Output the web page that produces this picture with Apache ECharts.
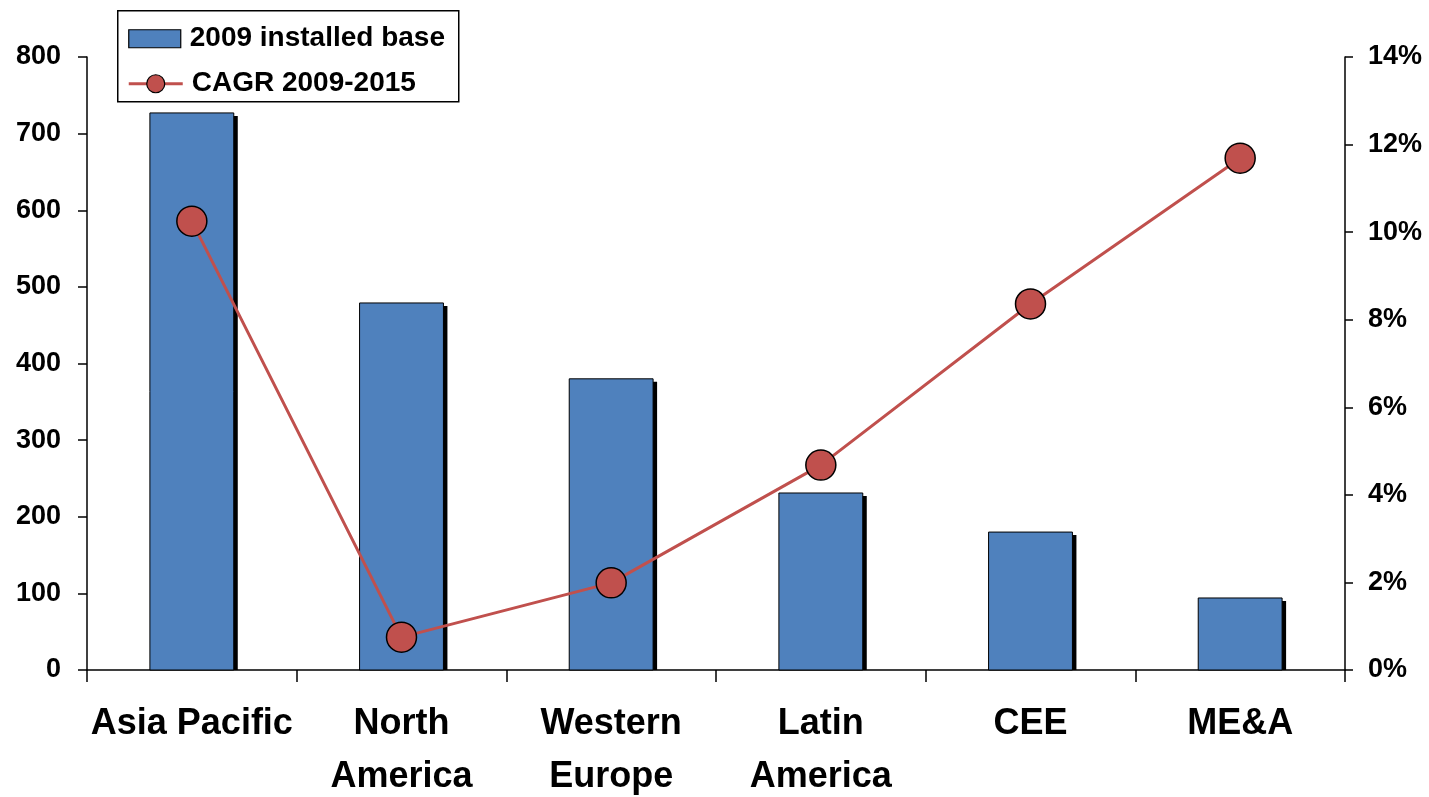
<!DOCTYPE html>
<html>
<head>
<meta charset="utf-8">
<script src="https://cdn.jsdelivr.net/npm/echarts@6/dist/echarts.min.js"></script>
<style>
  html, body { margin: 0; padding: 0; background: #fff; }
  #chart { width: 1429px; height: 797px; }
</style>
</head>
<body>
<div id="chart"></div>
<script>
// Regions on the category axis
const regions = ['Asia Pacific', 'North\nAmerica', 'Western\nEurope', 'Latin\nAmerica', 'CEE', 'ME&A'];
// 2009 installed base (left axis)
const installedBase = [727, 479, 380, 231, 180, 94];
// CAGR 2009-2015 (right axis, fraction)
const cagr = [0.1025, 0.0075, 0.0199, 0.0468, 0.0836, 0.1169];
// Legend entries
const legendNames = ['2009 installed base', 'CAGR 2009-2015'];

const FONT = '"Liberation Sans", Arial, sans-serif';
const BAR_COLOR = '#4F81BD';
const LINE_COLOR = '#C0504D';
const axisLine = { show: true, lineStyle: { color: '#000', width: 1.5 } };

// Bar with a hard black drop shadow offset to the lower right
function renderBar(params, api) {
  const idx = api.value(0);
  const top = api.coord([idx, api.value(1)]);
  const base = api.coord([idx, 0]);
  const w = api.size([1, 0])[0] * 0.4;
  const x = top[0] - w / 2;
  const h = base[1] - top[1];
  return {
    type: 'group',
    children: [
      {
        type: 'rect',
        shape: { x: x + 4, y: top[1] + 3, width: w, height: h - 3 },
        style: { fill: '#000' }
      },
      {
        type: 'rect',
        shape: { x: x, y: top[1], width: w, height: h },
        style: { fill: BAR_COLOR, stroke: '#000', lineWidth: 1 }
      }
    ]
  };
}

const legendText = {
  fontFamily: FONT, fontWeight: 'bold', fontSize: 28, fill: '#000',
  textVerticalAlign: 'middle', verticalAlign: 'middle'
};

const chart = echarts.init(document.getElementById('chart'));
chart.setOption({
  backgroundColor: '#fff',
  animation: false,
  grid: { left: 87, right: 84, top: 57, bottom: 127, outerBoundsMode: 'none', containLabel: false },
  xAxis: {
    type: 'category',
    data: regions,
    axisLine: axisLine,
    axisTick: { show: true, length: 12, lineStyle: { color: '#000', width: 1.5 } },
    axisLabel: {
      fontFamily: FONT, fontWeight: 'bold', fontSize: 36, color: '#000',
      lineHeight: 53, margin: 28, interval: 0
    }
  },
  yAxis: [
    {
      type: 'value', min: 0, max: 800, interval: 100,
      axisLine: axisLine,
      axisTick: { show: true, length: 9, lineStyle: { color: '#000', width: 1.5 } },
      splitLine: { show: false },
      axisLabel: { fontFamily: FONT, fontWeight: 'bold', fontSize: 27, color: '#000', margin: 26 }
    },
    {
      type: 'value', min: 0, max: 0.14, interval: 0.02, position: 'right',
      axisLine: axisLine,
      axisTick: { show: true, length: 8, lineStyle: { color: '#000', width: 1.5 } },
      splitLine: { show: false },
      axisLabel: {
        fontFamily: FONT, fontWeight: 'bold', fontSize: 27, color: '#000', margin: 23,
        formatter: v => Math.round(v * 100) + '%'
      }
    }
  ],
  graphic: [
    {
      type: 'group', left: 117, top: 10, z: 10,
      children: [
        { type: 'rect', shape: { x: 0, y: 0, width: 341, height: 91 },
          style: { fill: '#fff', stroke: '#000', lineWidth: 1.5 } },
        { type: 'rect', shape: { x: 11, y: 19, width: 52, height: 18 },
          style: { fill: BAR_COLOR, stroke: '#000', lineWidth: 1.2 } },
        { type: 'text', x: 72, y: 28, style: Object.assign({ text: legendNames[0] }, legendText) },
        { type: 'line', shape: { x1: 11, y1: 73, x2: 65, y2: 73 },
          style: { stroke: LINE_COLOR, lineWidth: 3 } },
        { type: 'circle', shape: { cx: 38, cy: 73, r: 9 },
          style: { fill: LINE_COLOR, stroke: '#000', lineWidth: 1.2 } },
        { type: 'text', x: 74, y: 73, style: Object.assign({ text: legendNames[1] }, legendText) }
      ]
    }
  ],
  series: [
    {
      name: legendNames[0],
      type: 'custom',
      yAxisIndex: 0,
      renderItem: renderBar,
      encode: { x: 0, y: 1 },
      data: installedBase.map((v, i) => [i, v]),
      z: 2
    },
    {
      name: legendNames[1],
      type: 'line',
      yAxisIndex: 1,
      data: cagr,
      symbol: 'circle',
      symbolSize: 30,
      lineStyle: { color: LINE_COLOR, width: 3 },
      itemStyle: { color: LINE_COLOR, borderColor: '#000', borderWidth: 1.5 },
      z: 3
    }
  ]
});
</script>
</body>
</html>
